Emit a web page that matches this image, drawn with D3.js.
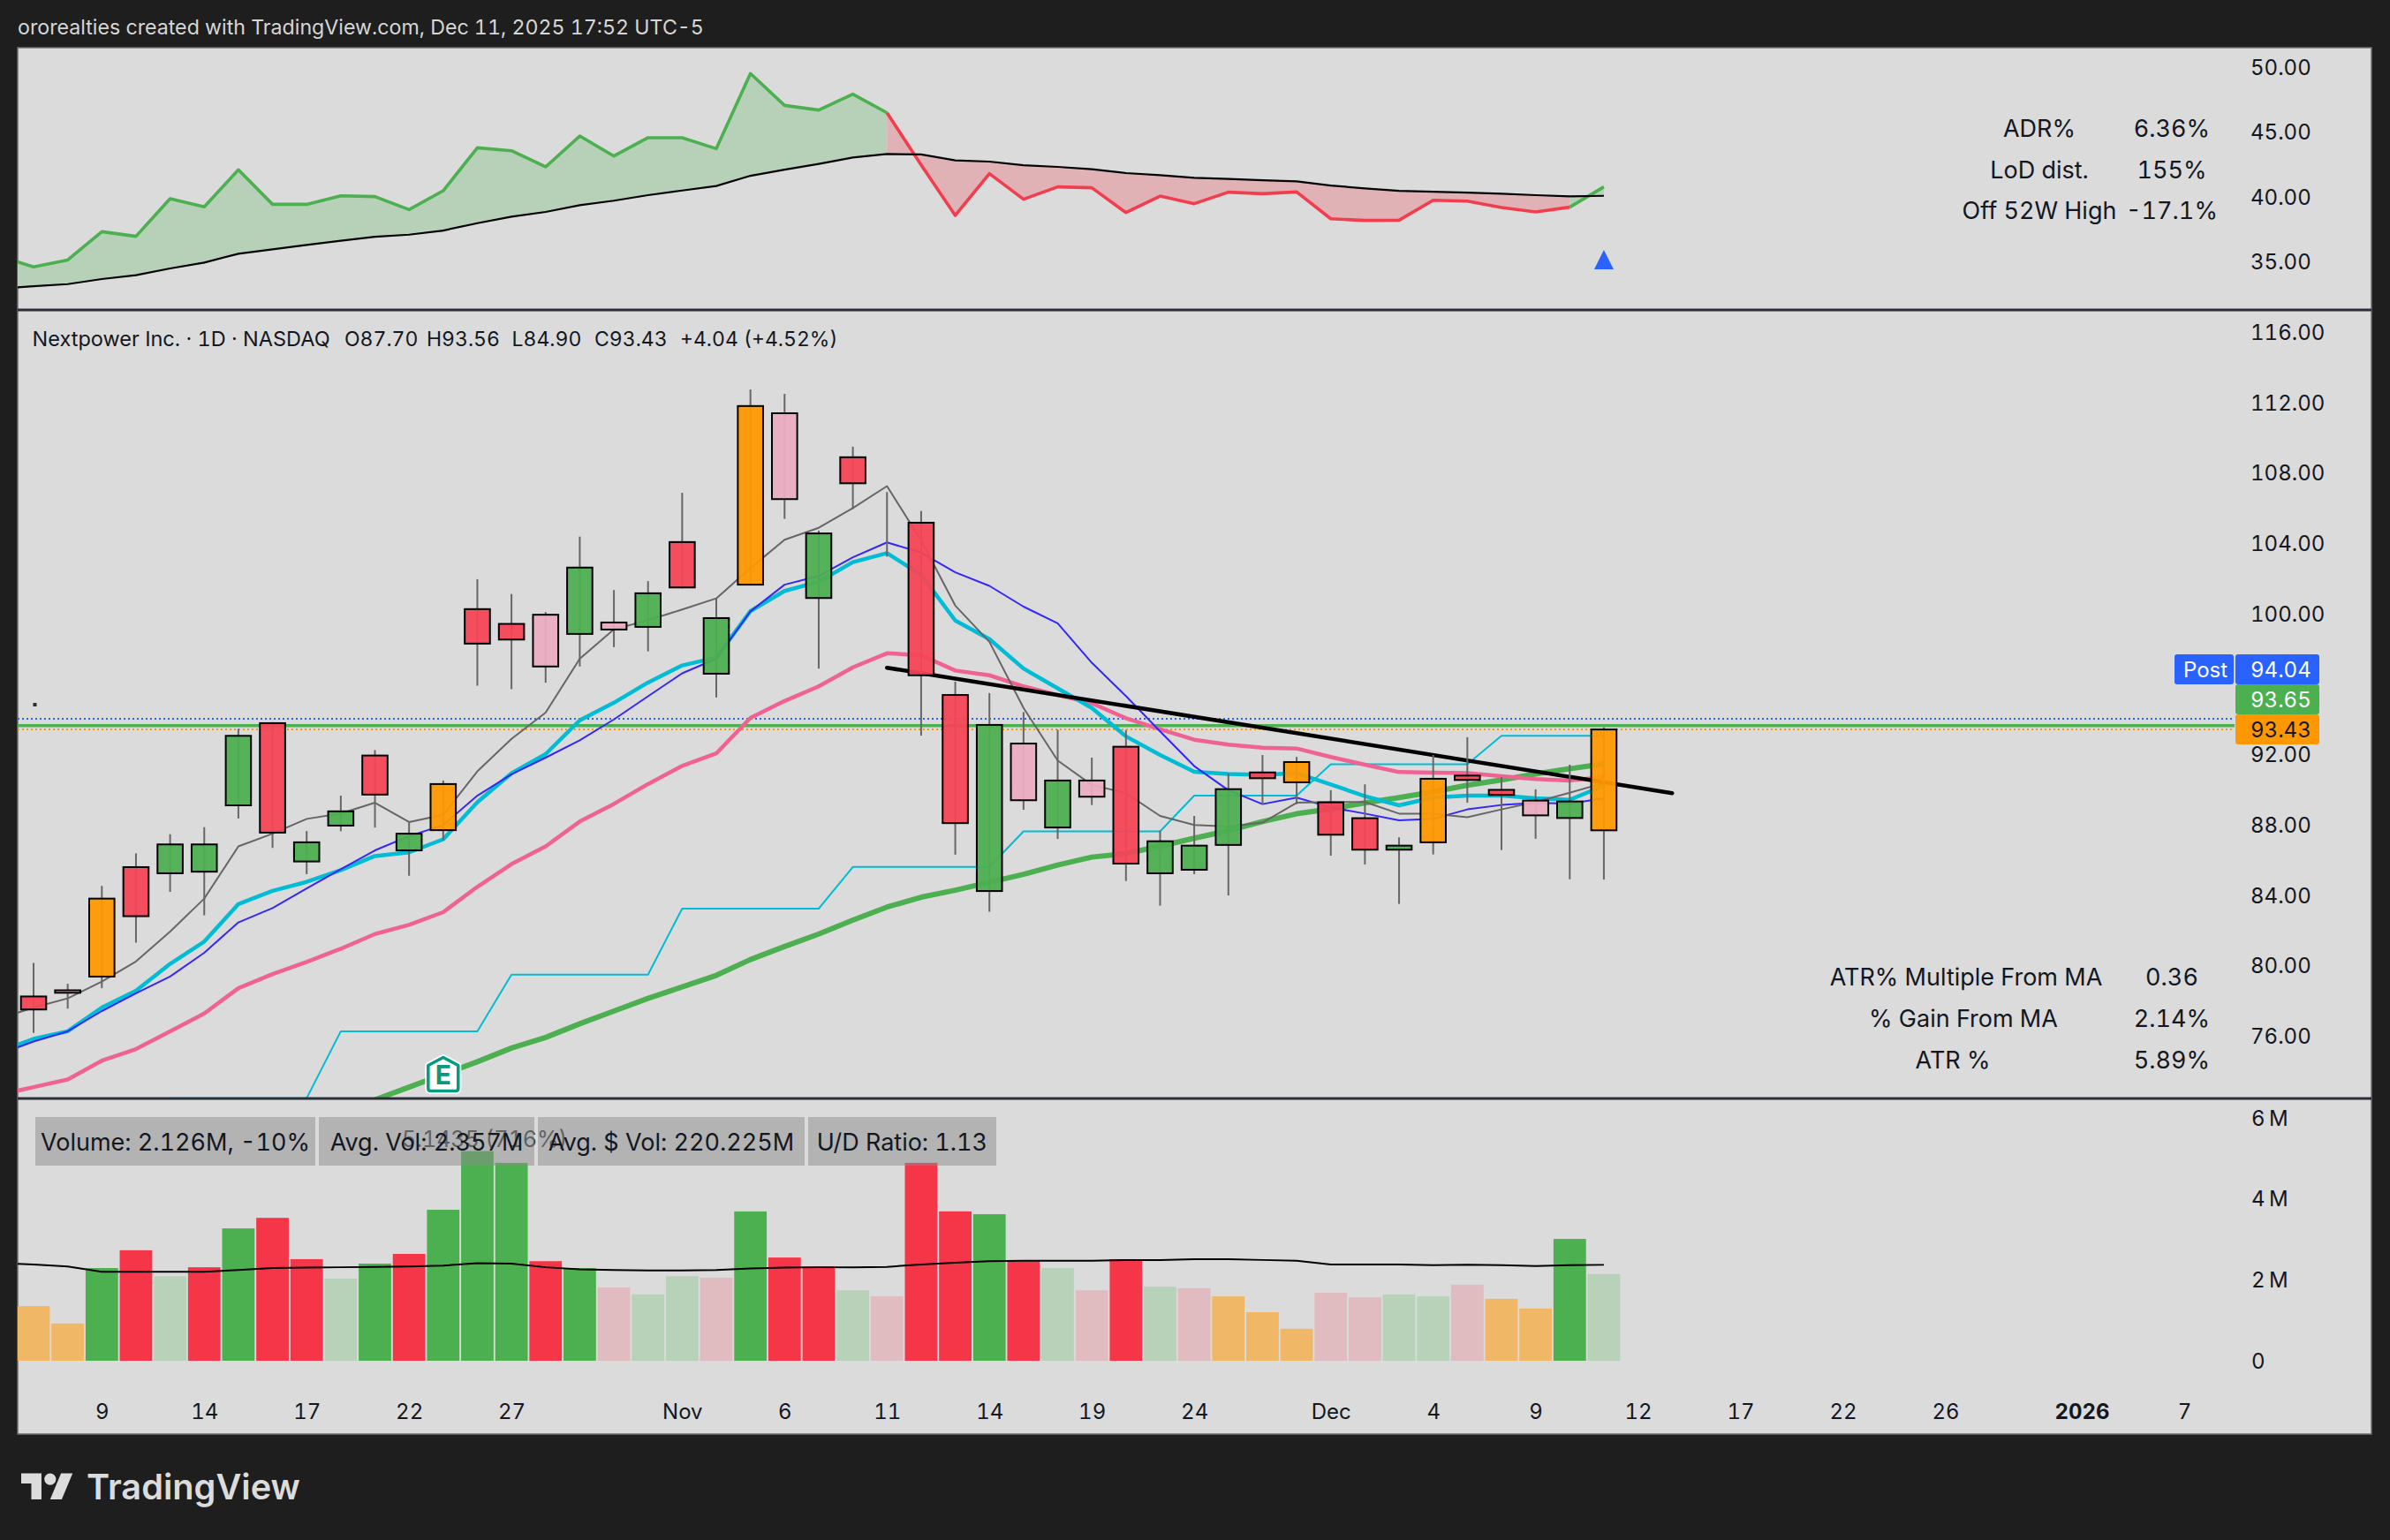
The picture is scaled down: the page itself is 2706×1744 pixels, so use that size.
<!DOCTYPE html>
<html lang="en">
<head>
    <meta charset="UTF-8">
    <title>Nextpower Inc. 1D</title>
    <script src="https://d3js.org/d3.v7.min.js"></script>
    <style>
        body { margin: 0; background: #1e1e1e; overflow: hidden; }
        text { font-family: Inter, "Noto Sans", sans-serif; font-variant-numeric: tabular-nums; }
        .axis .domain { display: none; }
        .axis text { font-family: Inter, "Noto Sans", sans-serif; font-size: 24px; fill: #131722; }
    </style>
</head>
<body>
    <div id="container"></div>
    <script>
        const width = 2706;
        const height = 1744;

        // candles, index 0 is the first visible session
        const wickHigh = [80.17, 78.98, 84.54, 86.39, 87.48, 87.88, 93.47, 93.85, 87.66, 89.67, 92.26, 88.17, 90.53, 101.97, 101.13, 100.10, 104.39, 101.35, 101.86, 106.88, 100.88, 112.75, 112.5, 104.73, 109.5, 106.92, 105.85, 96.15, 95.5, 94.42, 93.42, 91.83, 93.40, 87.68, 88.52, 90.93, 91.98, 91.87, 89.98, 90.31, 87.30, 91.98, 92.99, 90.73, 90.03, 91.43, 93.56];
        const wickLow = [76.19, 77.57, 78.73, 81.32, 84.20, 82.87, 88.37, 86.70, 85.21, 87.65, 87.86, 85.12, 87.14, 95.92, 95.72, 96.09, 97.01, 98.11, 97.87, 101.44, 95.25, 101.66, 105.40, 96.89, 105.96, 103.25, 93.08, 86.32, 83.07, 88.87, 87.21, 89.14, 84.82, 83.42, 85.21, 84.0, 89.19, 89.19, 86.26, 85.76, 83.52, 86.33, 89.27, 86.58, 87.22, 84.92, 84.90];
        const bodyTop = [78.26, 78.61, 83.82, 85.61, 86.90, 86.90, 93.07, 93.79, 87.02, 88.78, 91.95, 87.51, 90.33, 100.27, 99.43, 99.95, 102.63, 99.51, 101.17, 104.08, 99.76, 111.81, 111.4, 104.57, 108.9, 105.76, 105.18, 95.39, 93.69, 92.63, 90.53, 90.53, 92.45, 87.08, 86.83, 90.04, 90.99, 91.58, 89.29, 88.39, 86.83, 90.63, 90.81, 90.0, 89.39, 89.34, 93.43];
        const bodyBottom = [77.52, 78.47, 79.39, 82.82, 85.26, 85.35, 89.12, 87.57, 85.93, 87.97, 89.73, 86.56, 87.71, 98.31, 98.54, 97.01, 98.86, 99.11, 99.26, 101.5, 96.6, 101.66, 106.52, 100.9, 107.42, 105.76, 96.51, 88.11, 84.25, 89.41, 87.86, 89.61, 85.81, 85.26, 85.46, 86.87, 90.66, 90.43, 87.45, 86.60, 86.60, 87.02, 90.56, 89.71, 88.55, 88.40, 87.70];
        const candleKind = ["r", "p", "o", "r", "g", "g", "g", "r", "g", "g", "r", "g", "o", "r", "r", "p", "g", "p", "g", "r", "g", "o", "p", "g", "r", "p", "r", "r", "g", "p", "g", "p", "r", "g", "g", "g", "r", "o", "r", "r", "g", "o", "r", "r", "p", "g", "o"];

        // moving averages, first value sits one session left of the pane edge
        const maGrey = [77.0, 77.63, 78.15, 79.10, 80.25, 81.95, 83.82, 86.79, 87.51, 88.35, 88.66, 89.27, 88.17, 88.58, 91.05, 92.90, 94.39, 97.45, 99.12, 99.64, 100.25, 100.88, 102.60, 104.21, 104.89, 106.01, 107.26, 104.17, 100.47, 98.41, 94.65, 91.67, 90.28, 89.81, 88.52, 88.0, 87.92, 88.14, 89.27, 89.31, 89.31, 88.65, 88.65, 88.44, 88.89, 89.31, 89.84, 90.39];
        const maBlue = [74.98, 75.70, 76.28, 77.43, 78.44, 79.39, 80.74, 82.47, 83.28, 84.40, 85.49, 86.56, 87.37, 88.0, 89.67, 90.88, 91.83, 92.82, 94.0, 95.32, 96.62, 97.45, 100.14, 101.66, 102.15, 103.21, 104.06, 103.48, 102.36, 101.59, 100.41, 99.46, 97.22, 95.33, 93.32, 91.35, 89.98, 89.19, 89.56, 89.0, 88.65, 88.27, 88.35, 88.89, 89.14, 89.26, 89.22, 89.52];
        const maCyan = [75.13, 75.85, 76.28, 77.63, 78.58, 80.11, 81.38, 83.51, 84.26, 84.77, 85.44, 86.24, 86.45, 87.19, 89.30, 90.94, 92.03, 93.95, 94.95, 96.1, 97.07, 97.52, 100.16, 101.30, 101.82, 102.94, 103.45, 102.22, 99.62, 98.57, 96.89, 95.77, 94.65, 93.04, 91.98, 91.03, 90.9, 90.85, 90.95, 90.31, 89.64, 89.12, 89.56, 89.67, 89.67, 89.52, 89.44, 90.23];
        const maPink = [72.68, 73.11, 73.54, 74.61, 75.27, 76.28, 77.29, 78.73, 79.53, 80.22, 80.97, 81.81, 82.33, 83.05, 84.49, 85.78, 86.79, 88.2, 89.2, 90.33, 91.36, 92.07, 94.09, 95.05, 95.88, 96.96, 97.76, 97.65, 96.78, 96.51, 95.88, 95.39, 94.92, 94.07, 93.44, 92.85, 92.57, 92.4, 92.35, 91.87, 91.43, 91.01, 90.98, 90.95, 90.78, 90.61, 90.53, 90.73];
        const maGreen = [null, null, null, null, null, null, null, null, null, null, 71.6, 72.39, 73.11, 73.83, 74.55, 75.33, 75.93, 76.71, 77.43, 78.15, 78.8, 79.46, 80.36, 81.10, 81.81, 82.60, 83.34, 83.90, 84.30, 84.75, 85.2, 85.73, 86.18, 86.38, 86.8, 87.25, 87.68, 88.2, 88.64, 88.92, 89.26, 89.56, 89.89, 90.26, 90.56, 90.9, 91.2, 91.48];
        const stepLine = [null, null, null, null, null, 72.48, 72.48, 72.48, 72.48, 72.48, 76.28, 76.28, 76.28, 76.28, 76.28, 79.5, 79.5, 79.5, 79.5, 79.5, 83.25, 83.25, 83.25, 83.25, 83.25, 85.62, 85.62, 85.62, 85.62, 85.62, 87.64, 87.64, 87.64, 87.64, 87.64, 89.67, 89.67, 89.67, 89.67, 91.45, 91.45, 91.45, 91.45, 91.45, 93.07, 93.07, 93.07, 93.07];

        const trendIndex = [25, 48];
        const trendPrice = [96.94, 89.81];

        // top pane, same offset as the moving averages
        const rsLine = [35.41, 34.57, 35.11, 37.30, 36.94, 39.86, 39.22, 42.09, 39.42, 39.42, 40.08, 40.02, 39.01, 40.47, 43.8, 43.57, 42.32, 44.71, 43.16, 44.58, 44.58, 43.73, 49.55, 47.08, 46.72, 47.95, 46.51, 42.48, 38.56, 41.8, 39.81, 40.77, 40.7, 38.78, 40.06, 39.47, 40.36, 40.24, 40.38, 38.3, 38.17, 38.19, 39.74, 39.67, 39.17, 38.83, 39.2, 40.77];
        const rsAverage = [32.90, 33.08, 33.24, 33.63, 33.93, 34.45, 34.91, 35.59, 35.93, 36.28, 36.6, 36.91, 37.07, 37.39, 37.96, 38.46, 38.83, 39.35, 39.7, 40.13, 40.49, 40.84, 41.63, 42.11, 42.55, 43.05, 43.32, 43.28, 42.82, 42.73, 42.45, 42.32, 42.14, 41.84, 41.68, 41.47, 41.38, 41.29, 41.2, 40.88, 40.65, 40.47, 40.4, 40.33, 40.24, 40.13, 40.04, 40.08];

        // volume in millions
        const volume = [1.35, 0.92, 2.29, 2.73, 2.09, 2.31, 3.27, 3.53, 2.51, 2.03, 2.40, 2.64, 3.73, 5.18, 4.89, 2.46, 2.29, 1.81, 1.64, 2.09, 2.05, 3.69, 2.55, 2.33, 1.74, 1.59, 4.89, 3.69, 3.62, 2.46, 2.29, 1.74, 2.51, 1.83, 1.79, 1.59, 1.2, 0.79, 1.68, 1.57, 1.64, 1.59, 1.88, 1.53, 1.29, 3.01, 2.14];
        const volumeKind = ["lo", "lo", "g", "r", "lg", "r", "g", "r", "r", "lg", "g", "r", "g", "g", "g", "r", "g", "lr", "lg", "lg", "lr", "g", "r", "r", "lg", "lr", "r", "r", "g", "r", "lg", "lr", "r", "lg", "lr", "lo", "lo", "lo", "lr", "lr", "lg", "lg", "lr", "lo", "lo", "g", "lg"];
        const volumeAverage = [2.41, 2.38, 2.33, 2.20, 2.20, 2.20, 2.20, 2.24, 2.29, 2.30, 2.31, 2.32, 2.33, 2.35, 2.41, 2.40, 2.31, 2.26, 2.24, 2.23, 2.23, 2.24, 2.28, 2.30, 2.31, 2.31, 2.32, 2.38, 2.42, 2.46, 2.47, 2.47, 2.47, 2.49, 2.49, 2.51, 2.51, 2.49, 2.47, 2.38, 2.38, 2.38, 2.36, 2.37, 2.36, 2.34, 2.36, 2.37];

        // axes
        const rsTicks = [35, 40, 45, 50];
        const priceTicks = [76, 80, 84, 88, 92, 100, 104, 108, 112, 116];
        const volumeTicks = [0, 2, 4, 6];
        const timeIndex = [2, 5, 8, 11, 14, 19, 22, 25, 28, 31, 34, 38, 41, 44, 47, 50, 53, 56, 60, 63];
        const timeLabels = ["9", "14", "17", "22", "27", "Nov", "6", "11", "14", "19", "24", "Dec", "4", "9", "12", "17", "22", "26", "2026", "7"];

        const tagValues = ["94.04", "93.65", "93.43"];
        const tagColors = ["#2962ff", "#4caf50", "#ff9800"];
        const tagTextColors = ["#ffffff", "#ffffff", "#131722"];
        const priceLines = [94.04, 93.65, 93.43];

        const topStats = [["ADR%", "6.36%"], ["LoD dist.", "155%"], ["Off 52W High", "-17.1%"]];
        const bottomStats = [["ATR% Multiple From MA", "0.36", 2226], ["% Gain From MA", "2.14%", 2223], ["ATR %", "5.89%", 2211]];
        const volumeBoxes = ["Volume: 2.126M, -10%", "Avg. Vol: 2.357M", "Avg. $ Vol: 220.225M", "U/D Ratio: 1.13"];
        const legendParts = ["Nextpower Inc. · 1D · NASDAQ", "O87.70", "H93.56", "L84.90", "C93.43", "+4.04 (+4.52%)"];

        const candleColors = { r: "#f44456", p: "#ecacc2", o: "#ff9800", g: "#4caf50" };
        const volumeColors = { r: "#f43648", lr: "#e0bbc0", lo: "#f0b866", g: "#4caf50", lg: "#b8d1b9" };

        const left = 20, right = 2685, chartRight = 2530;
        const rsPane = { top: 54, bottom: 351 };
        const mainPane = { top: 351, bottom: 1244 };
        const volPane = { top: 1244, bottom: 1624 };

        const x = d3.scaleLinear().domain([0, 63]).range([38, 2473]);
        const yRs = d3.scaleLinear().domain([35, 50]).range([296, 76.7]);
        const y = d3.scaleLinear().domain([76, 116]).range([1173.5, 376.3]);
        const yVol = d3.scaleLinear().domain([0, 6]).range([1541, 1266]);

        const svg = d3.select("#container")
            .append("svg")
            .attr("width", width)
            .attr("height", height)
            .style("display", "block");

        svg.append("rect").attr("width", width).attr("height", height).attr("fill", "#1e1e1e");

        svg.append("text")
            .attr("x", 20).attr("y", 39)
            .attr("font-size", 23.2)
            .attr("fill", "#d6d6d6")
            .text("ororealties created with TradingView.com, Dec 11, 2025 17:52 UTC-5");

        svg.append("rect")
            .attr("x", left).attr("y", rsPane.top)
            .attr("width", right - left).attr("height", volPane.bottom - rsPane.top)
            .attr("fill", "#dbdbdb")
            .attr("stroke", "#6e6e6e").attr("stroke-width", 1.5);

        const defs = svg.append("defs");
        [["clipRs", rsPane], ["clipMain", mainPane], ["clipVol", volPane]].forEach(([id, pane]) => {
            defs.append("clipPath").attr("id", id).append("rect")
                .attr("x", left).attr("y", pane.top)
                .attr("width", chartRight - left).attr("height", pane.bottom - pane.top);
        });

        // --- top pane
        const rsGroup = svg.append("g").attr("clip-path", "url(#clipRs)");
        const offset = i => i - 1;
        const rsData = rsLine.map((v, i) => ({ i: offset(i), rs: v, avg: rsAverage[i] }));
        const rsArea = d3.area().x(d => x(d.i)).y0(d => yRs(d.avg)).y1(d => yRs(d.rs));
        const rsPath = d3.line().x(d => x(d.i)).y(d => yRs(d.rs));

        const rsRuns = [
            { from: -1, to: 25, line: "#4caf50", fill: "#b7d1b8" },
            { from: 25, to: 45, line: "#f23d4f", fill: "#e0b2b5" },
            { from: 45, to: 46, line: "#4caf50", fill: "#b7d1b8" }
        ];
        rsRuns.forEach(run => {
            const part = rsData.filter(d => d.i >= run.from && d.i <= run.to);
            rsGroup.append("path").attr("d", rsArea(part)).attr("fill", run.fill);
        });
        rsRuns.forEach(run => {
            const part = rsData.filter(d => d.i >= run.from && d.i <= run.to);
            rsGroup.append("path").attr("d", rsPath(part)).attr("fill", "none")
                .attr("stroke", run.line).attr("stroke-width", 3.6).attr("stroke-linejoin", "round");
        });
        rsGroup.append("path")
            .attr("d", d3.line().x(d => x(d.i)).y(d => yRs(d.avg))(rsData))
            .attr("fill", "none").attr("stroke", "#000").attr("stroke-width", 2.2);

        // blue triangle under the last session
        svg.append("path")
            .attr("d", `M${x(46)},283L${x(46) + 11},305L${x(46) - 11},305Z`)
            .attr("fill", "#2962ff");

        svg.append("g").attr("class", "axis")
            .attr("transform", "translate(2548,0.5)")
            .call(d3.axisRight(yRs).tickValues(rsTicks).tickFormat(d3.format(".2f")).tickSize(0).tickPadding(0));

        topStats.forEach((row, r) => {
            svg.append("text").attr("x", 2309).attr("y", 155 + r * 46.5)
                .attr("text-anchor", "middle").attr("font-size", 27).attr("fill", "#131722").text(row[0]);
            svg.append("text").attr("x", 2459).attr("y", 155 + r * 46.5)
                .attr("text-anchor", "middle").attr("font-size", 27).attr("fill", "#131722").text(row[1]);
        });

        // --- main pane
        const main = svg.append("g").attr("clip-path", "url(#clipMain)");

        const maLine = d3.line()
            .defined(d => d !== null)
            .x((d, i) => x(offset(i)))
            .y(d => y(d));

        // price lines
        main.append("line")
            .attr("x1", left).attr("x2", chartRight).attr("y1", y(priceLines[0])).attr("y2", y(priceLines[0]))
            .attr("stroke", "#2962ff").attr("stroke-width", 2).attr("stroke-dasharray", "2 3");
        main.append("line")
            .attr("x1", left).attr("x2", chartRight).attr("y1", y(priceLines[1])).attr("y2", y(priceLines[1]))
            .attr("stroke", "#4caf50").attr("stroke-width", 3.5);
        main.append("line")
            .attr("x1", left).attr("x2", chartRight).attr("y1", y(priceLines[2])).attr("y2", y(priceLines[2]))
            .attr("stroke", "#ff9800").attr("stroke-width", 2).attr("stroke-dasharray", "2 3");

        const maStyles = [
            [stepLine, "#00bcd4", 2],
            [maGreen, "#4caf50", 6],
            [maPink, "#f06292", 4.5],
            [maCyan, "#00bcd4", 4.5],
            [maBlue, "#3527f5", 2],
            [maGrey, "#666666", 2]
        ];
        maStyles.forEach(([values, color, w]) => {
            main.append("path")
                .attr("d", maLine(values))
                .attr("fill", "none").attr("stroke", color).attr("stroke-width", w)
                .attr("stroke-linejoin", "round");
        });

        main.append("line")
            .attr("x1", x(trendIndex[0])).attr("y1", y(trendPrice[0]))
            .attr("x2", x(trendIndex[1])).attr("y2", y(trendPrice[1]))
            .attr("stroke", "#000").attr("stroke-width", 4.5).attr("stroke-linecap", "round");

        // candles
        const candles = main.selectAll("g.candle")
            .data(candleKind.map((k, i) => ({ i, k })))
            .enter().append("g").attr("class", "candle");

        candles.append("line")
            .attr("x1", d => x(d.i)).attr("x2", d => x(d.i))
            .attr("y1", d => y(wickHigh[d.i])).attr("y2", d => y(wickLow[d.i]))
            .attr("stroke", "#666666").attr("stroke-width", 2);

        candles.append("rect")
            .attr("x", d => x(d.i) - 14.3)
            .attr("width", 28.6)
            .attr("y", d => y(bodyTop[d.i]))
            .attr("height", d => y(bodyBottom[d.i]) - y(bodyTop[d.i]))
            .attr("fill", d => candleColors[d.k])
            .attr("fill-opacity", 0.94)
            .attr("stroke", "#000").attr("stroke-width", 2);

        // small dot near the left edge
        main.append("rect")
            .attr("x", x(0) - 0.5).attr("y", y(94.84) - 2).attr("width", 4).attr("height", 4)
            .attr("fill", "#2a2e39");

        // earnings marker
        const earnings = svg.append("g").attr("transform", `translate(${x(12)},1216.5)`);
        const housePath = "M-17,-10L0,-19L17,-10L17,16Q17,19 14,19L-14,19Q-17,19 -17,16Z";
        earnings.append("path").attr("d", housePath)
            .attr("fill", "#ffffff").attr("stroke", "#ffffff").attr("stroke-width", 7).attr("stroke-linejoin", "round");
        earnings.append("path").attr("d", housePath)
            .attr("fill", "#ffffff").attr("stroke", "#089981").attr("stroke-width", 3.5).attr("stroke-linejoin", "round");
        earnings.append("text").attr("y", 11).attr("text-anchor", "middle")
            .attr("font-size", 30).attr("font-weight", 700).attr("fill", "#089981").text("E");

        const legendX = [36.6, 390, 483, 579.5, 673, 770];
        legendParts.forEach((part, k) => {
            svg.append("text").attr("x", legendX[k]).attr("y", 392)
                .attr("font-size", k === 0 ? 23.5 : 23).attr("fill", "#131722").text(part);
        });

        svg.append("g").attr("class", "axis")
            .attr("transform", "translate(2548,0.5)")
            .call(d3.axisRight(y).tickValues(priceTicks).tickFormat(d3.format(".2f")).tickSize(0).tickPadding(0));

        // price tags on the axis
        tagValues.forEach((t, k) => {
            const top = 741 + k * 34;
            svg.append("rect").attr("x", 2531).attr("y", top).attr("width", 95).attr("height", 34)
                .attr("rx", 3).attr("fill", tagColors[k]);
            svg.append("text").attr("x", 2548).attr("y", top + 26)
                .attr("font-size", 24).attr("fill", tagTextColors[k]).text(t);
        });
        svg.append("rect").attr("x", 2462).attr("y", 741).attr("width", 67).attr("height", 34)
            .attr("rx", 3).attr("fill", "#2962ff");
        svg.append("text").attr("x", 2497).attr("y", 767).attr("text-anchor", "middle")
            .attr("font-size", 24).attr("fill", "#ffffff").text("Post");

        bottomStats.forEach((row, r) => {
            svg.append("text").attr("x", row[2]).attr("y", 1116 + r * 46.8)
                .attr("text-anchor", "middle").attr("font-size", 27).attr("fill", "#131722").text(row[0]);
            svg.append("text").attr("x", 2459).attr("y", 1116 + r * 46.8)
                .attr("text-anchor", "middle").attr("font-size", 27).attr("fill", "#131722").text(row[1]);
        });

        // --- volume pane
        const vol = svg.append("g").attr("clip-path", "url(#clipVol)");

        vol.selectAll("rect.bar")
            .data(volume)
            .enter().append("rect")
            .attr("class", "bar")
            .attr("x", (d, i) => x(i) - 18.4)
            .attr("width", 36.8)
            .attr("y", d => yVol(d))
            .attr("height", d => yVol(0) - yVol(d))
            .attr("fill", (d, i) => volumeColors[volumeKind[i]]);

        vol.append("path")
            .attr("d", d3.line().x((d, i) => x(offset(i))).y(d => yVol(d))(volumeAverage))
            .attr("fill", "none").attr("stroke", "#000").attr("stroke-width", 2);

        // faint value label of the biggest bar sits under the boxes
        svg.append("text").attr("x", 455).attr("y", 1299)
            .attr("font-size", 25).attr("fill", "#131722").attr("opacity", 0.85).text("5.1435 (716%)");

        const boxLeft = [40, 361, 609, 915];
        const boxRight = [357, 605, 911, 1128];
        volumeBoxes.forEach((label, k) => {
            svg.append("rect").attr("x", boxLeft[k]).attr("y", 1265)
                .attr("width", boxRight[k] - boxLeft[k]).attr("height", 55)
                .attr("fill", "#8c8c8c").attr("fill-opacity", 0.5);
            svg.append("text").attr("x", (boxLeft[k] + boxRight[k]) / 2).attr("y", 1303)
                .attr("text-anchor", "middle").attr("font-size", 27).attr("fill", "#131722").text(label);
        });

        svg.append("g").attr("class", "axis")
            .attr("transform", "translate(2549,0.5)")
            .style("word-spacing", "-2px")
            .call(d3.axisRight(yVol).tickValues(volumeTicks)
                .tickFormat(d => d === 0 ? "0" : d + " M").tickSize(0).tickPadding(0));

        // --- time axis
        const timeAxis = svg.append("g").attr("class", "axis")
            .attr("transform", "translate(0,1590)")
            .call(d3.axisBottom(x).tickValues(timeIndex)
                .tickFormat(d => timeLabels[timeIndex.indexOf(d)]).tickSize(0).tickPadding(0));
        timeAxis.selectAll("text").filter(d => timeLabels[timeIndex.indexOf(d)] === "2026")
            .attr("font-weight", 700).style("font-weight", 700);

        // pane separators
        [rsPane.bottom, mainPane.bottom].forEach(sy => {
            svg.append("line").attr("x1", left).attr("x2", right).attr("y1", sy).attr("y2", sy)
                .attr("stroke", "#2a2e39").attr("stroke-width", 3);
        });

        // --- footer logo
        const logo = svg.append("g").attr("transform", "translate(24,1662) scale(1.64)").attr("fill", "#dcdcdc");
        logo.append("path").attr("d", "M14 22H7V11H0V4h14v18zM28 22h-8l7.5-18h8L28 22z");
        logo.append("circle").attr("cx", 20).attr("cy", 8).attr("r", 4);
        svg.append("text").attr("x", 98).attr("y", 1698)
            .attr("font-size", 39.7).attr("font-weight", 600).attr("fill", "#dcdcdc").text("TradingView");
    </script>
</body>
</html>
